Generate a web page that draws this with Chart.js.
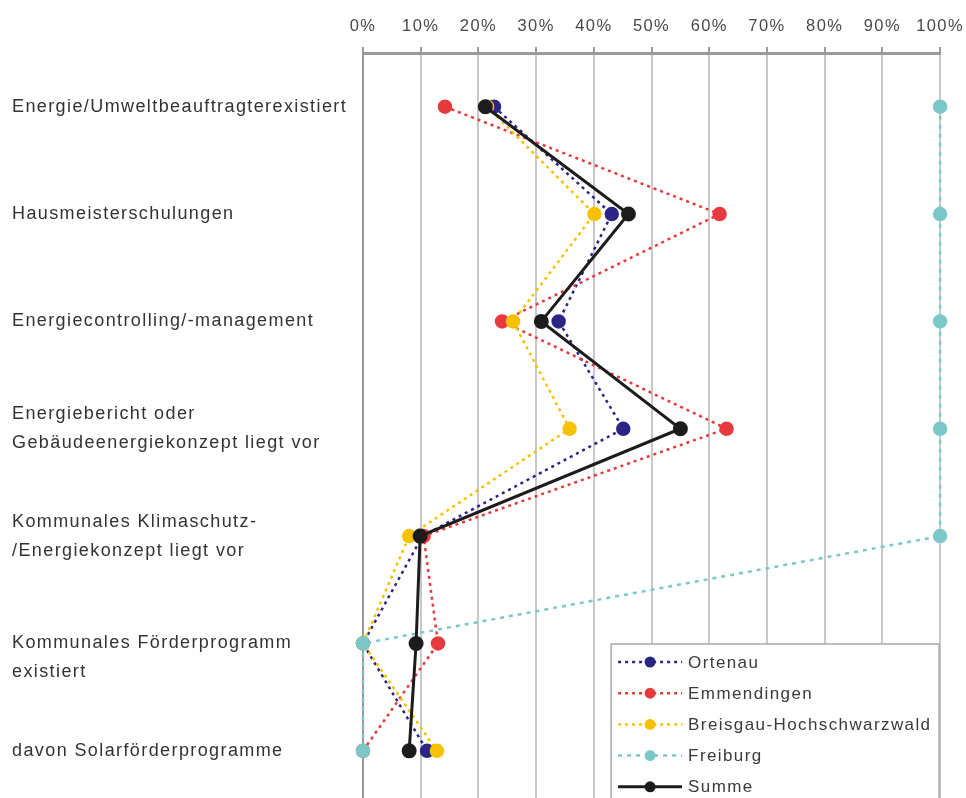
<!DOCTYPE html>
<html>
<head>
<meta charset="utf-8">
<script src="https://cdn.jsdelivr.net/npm/chart.js@4.4.1/dist/chart.umd.min.js"></script>
<style>
  html, body { margin: 0; padding: 0; background: #fff; overflow: hidden; }
  canvas { display: block; }
</style>
</head>
<body>
<canvas id="c" width="975" height="822"></canvas>
<script>
// Measures (rows), top to bottom
const categories = [
  'Energie/Umweltbeauftragterexistiert',
  'Hausmeisterschulungen',
  'Energiecontrolling/-management',
  ['Energiebericht oder', 'Gebäudeenergiekonzept liegt vor'],
  ['Kommunales Klimaschutz-', '/Energiekonzept liegt vor'],
  ['', 'Kommunales Förderprogramm', 'existiert'],
  'davon Solarförderprogramme'
];

// Share of municipalities per district (%)
const ortenau      = [22.7, 43.1, 33.9, 45.1, 10.3, 0, 11.1];
const emmendingen  = [14.2, 61.8, 24.1, 63.0, 10.5, 13.0, 0];
const breisgau     = [21.5, 40.1, 26.0, 35.8, 8.0, 0, 12.8];
const freiburg     = [100, 100, 100, 100, 100, 0, 0];
const summe        = [21.2, 46.0, 30.9, 55.0, 9.9, 9.2, 8.0];

// Percentage axis
const xTicks = [0, 10, 20, 30, 40, 50, 60, 70, 80, 90, 100];

const FONT = '"Liberation Sans", Arial, sans-serif';
const SPACING = '1.4px';

function series(label, data, color, dash, width, order) {
  return {
    label, data, order,
    borderColor: color,
    backgroundColor: color,
    pointBackgroundColor: color,
    pointBorderColor: color,
    borderWidth: width,
    borderDash: dash,
    pointRadius: 6,
    pointHoverRadius: 6,
    tension: 0,
    fill: false,
    clip: false
  };
}

// Slightly spaced glyphs for all canvas text
const spacing = {
  id: 'spacing',
  beforeUpdate(chart) { chart.ctx.letterSpacing = SPACING; },
  beforeDraw(chart) { chart.ctx.letterSpacing = SPACING; }
};

// Boxed legend in the lower right corner of the plot
const boxLegend = {
  id: 'boxLegend',
  afterDraw(chart) {
    const { ctx, chartArea } = chart;
    const left = chartArea.right - 329, top = 644;
    ctx.save();
    ctx.letterSpacing = SPACING;
    ctx.fillStyle = '#ffffff';
    ctx.fillRect(left, top, 328, 220);
    ctx.strokeStyle = '#a8a8a8';
    ctx.lineWidth = 1.5;
    ctx.strokeRect(left, top, 328, 220);
    chart.data.datasets.forEach((ds, i) => {
      const y = top + 18 + i * 31.2;
      ctx.setLineDash(ds.borderDash || []);
      ctx.strokeStyle = ds.borderColor;
      ctx.lineWidth = ds.borderWidth;
      ctx.beginPath();
      ctx.moveTo(left + 7, y);
      ctx.lineTo(left + 71, y);
      ctx.stroke();
      ctx.setLineDash([]);
      ctx.fillStyle = ds.pointBackgroundColor;
      ctx.beginPath();
      ctx.arc(left + 39, y, 5.5, 0, Math.PI * 2);
      ctx.fill();
      ctx.fillStyle = '#3a3a3a';
      ctx.font = '17px ' + FONT;
      ctx.textBaseline = 'middle';
      ctx.textAlign = 'left';
      ctx.fillText(ds.label, left + 77, y + 1);
    });
    ctx.restore();
  }
};

new Chart(document.getElementById('c'), {
  type: 'line',
  data: {
    labels: categories,
    datasets: [
      series('Ortenau', ortenau, '#2b2586', [3, 4], 2.5, 5),
      series('Emmendingen', emmendingen, '#e63a3e', [3, 4], 2.5, 4),
      series('Breisgau-Hochschwarzwald', breisgau, '#f6c200', [3, 4], 2.5, 3),
      series('Freiburg', freiburg, '#7cc8c9', [4, 5], 2.5, 2),
      series('Summe', summe, '#1c1c1c', [], 3, 1)
    ]
  },
  options: {
    indexAxis: 'y',
    responsive: false,
    animation: false,
    layout: { autoPadding: false, padding: { left: 12, right: 27, top: 0, bottom: 2 } },
    plugins: {
      legend: { display: false },
      tooltip: { enabled: false }
    },
    scales: {
      x: {
        type: 'linear',
        position: 'top',
        min: xTicks[0],
        max: xTicks[xTicks.length - 1],
        afterBuildTicks(scale) { scale.ticks = xTicks.map(v => ({ value: v })); },
        afterFit(scale) { scale.height = 53; },
        ticks: {
          callback: v => v + '%',
          color: '#484848',
          font: { family: FONT, size: 16.5 },
          padding: 11,
          maxRotation: 0
        },
        grid: {
          color: c => (c.index === 0 ? '#9a9a9a' : '#c8c8c8'),
          lineWidth: 2,
          tickLength: 6,
          tickColor: '#9a9a9a'
        },
        border: { display: true, color: '#9a9a9a', width: 3 }
      },
      y: {
        type: 'category',
        offset: true,
        afterFit(scale) { scale.width = 351; },
        ticks: {
          crossAlign: 'far',
          color: '#333333',
          font: { family: FONT, size: 18, lineHeight: 1.61 },
          autoSkip: false
        },
        grid: { display: false },
        border: { display: false }
      }
    }
  },
  plugins: [spacing, boxLegend]
});
</script>
</body>
</html>
